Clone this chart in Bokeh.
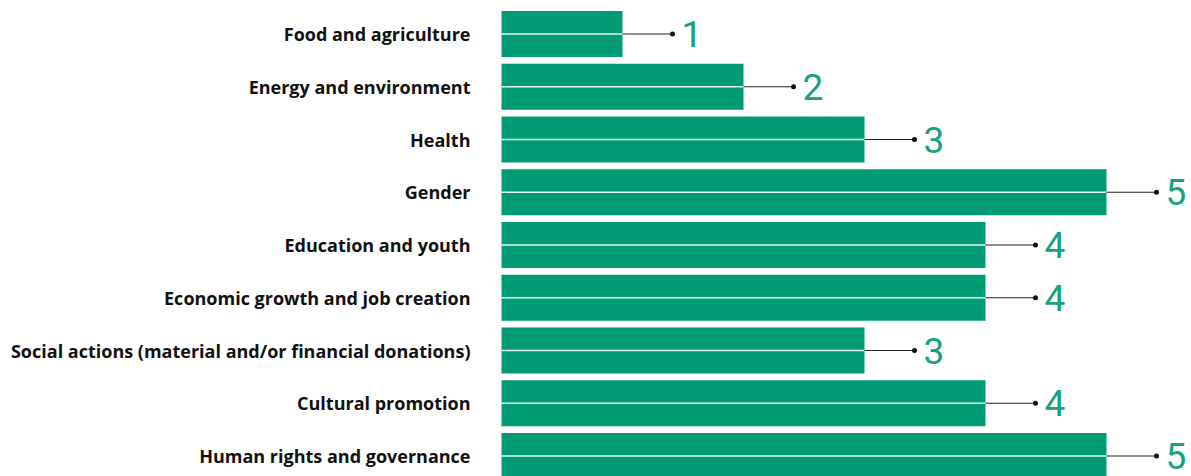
from bokeh.plotting import figure
from bokeh.models import Range1d, ColumnDataSource
from bokeh.core.properties import value
from bokeh.embed import file_html
from bokeh.resources import INLINE

categories = [
    "Food and agriculture",
    "Energy and environment",
    "Health",
    "Gender",
    "Education and youth",
    "Economic growth and job creation",
    "Social actions (material and/or financial donations)",
    "Cultural promotion",
    "Human rights and governance",
]
counts = [1, 2, 3, 5, 4, 4, 3, 4, 5]

GREEN = "#009b74"
LEADER = 50 / 121.0  # leader length in data units (121 px per unit)

ypos = list(range(len(categories)))
src = ColumnDataSource(dict(
    y=ypos,
    v=counts,
    lab=[str(c) for c in counts],
    cat=categories,
    zero=[0] * len(counts),
    lead=[c + LEADER for c in counts],
))

p = figure(width=1191, height=476, output_backend="svg", toolbar_location=None,
           x_range=Range1d(-501 / 121.0, (1191 - 501) / 121.0),
           y_range=Range1d((476 - 33.5) / 52.75, -33.5 / 52.75),
           min_border=0)
p.axis.visible = False
p.grid.visible = False
p.outline_line_color = None
p.background_fill_color = "white"
p.border_fill_color = "white"

p.hbar(y="y", left=0, right="v", height=0.872, source=src,
       fill_color=GREEN, line_color=None)
p.segment(x0="zero", y0="y", x1="v", y1="y", source=src,
          line_color="white", line_width=1.5, line_alpha=0.9)
p.segment(x0="v", y0="y", x1="lead", y1="y", source=src,
          line_color="#222222", line_width=1.2)
p.scatter(x="lead", y="y", source=src, size=5, fill_color="#111111", line_color=None)
p.text(x="lead", y="y", text="lab", source=src, x_offset=9, y_offset=0,
       text_align="left", text_baseline="middle", text_color="#17a27d",
       text_font=value("Roboto"), text_font_size="37px")
p.text(x="zero", y="y", text="cat", source=src, x_offset=-31,
       text_align="right", text_baseline="middle", text_color="#111111",
       text_font=value("Open Sans"), text_font_style="bold", text_font_size="18px")

open("out.html", "w").write(file_html(p, INLINE))
